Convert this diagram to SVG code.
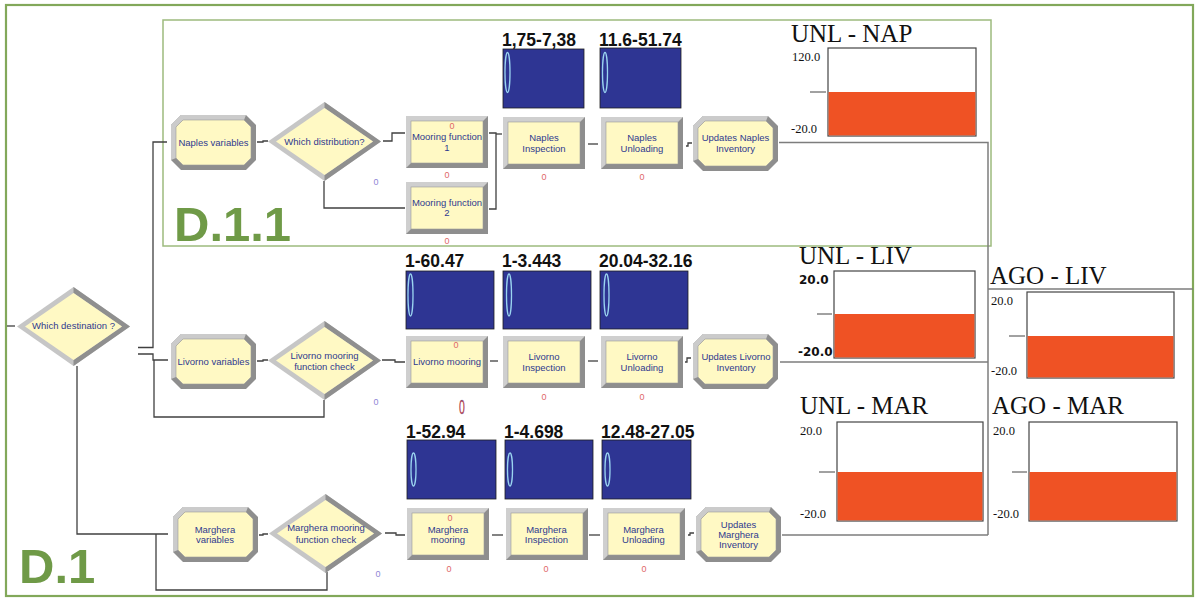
<svg xmlns="http://www.w3.org/2000/svg" width="1195" height="598" viewBox="0 0 1195 598">
  <style>
    .t { font-family: "Liberation Sans", Arial, sans-serif; font-size: 9.5px; fill: #2f3a8f; text-anchor: middle; }
    .lbl { font-family: "Liberation Sans", Arial, sans-serif; font-size: 17.5px; font-weight: bold; fill: #111; }
    .ttl { font-family: "Liberation Serif", "Times New Roman", serif; font-size: 25px; fill: #111; }
    .ax { font-family: "Liberation Serif", "Times New Roman", serif; font-size: 12.5px; fill: #111; }
    .axb { font-family: "DejaVu Sans", Verdana, sans-serif; font-size: 12px; font-weight: bold; fill: #111; }
    .cr { font-family: "Liberation Sans", Arial, sans-serif; font-size: 9px; fill: #e06868; text-anchor: middle; }
    .cp { font-family: "Liberation Sans", Arial, sans-serif; font-size: 9px; fill: #8f86d6; text-anchor: middle; }
    .big { font-family: "Liberation Sans", Arial, sans-serif; font-size: 49px; font-weight: bold; fill: #6f9a47; }
    .conn { fill: none; stroke: #404040; stroke-width: 1.3; }
    .conn2 { fill: none; stroke: #7d7d7d; stroke-width: 1.5; }
    .res { fill: #2e3593; stroke: #1e1e1e; stroke-width: 0.8; }
    .resq { fill: none; stroke: #9ad4f0; stroke-width: 1.3; }
    .frame { fill: #fff; stroke: #444; stroke-width: 1.2; }
    .bar { fill: #ef5224; }
    .tick { stroke: #444; stroke-width: 1; }
  </style>
  <defs>
    <!-- process module: bevelled grey frame with yellow face -->
    <g id="proc">
      <rect width="82" height="52" fill="#8e8e8e"/>
      <polygon points="0,0 82,0 77,5 5,5 5,47 0,52" fill="#cfcfcf"/>
      <rect x="5" y="5" width="72" height="42" fill="#fff9c4" stroke="#9a9a9a" stroke-width="0.6"/>
    </g>
    <!-- assign module: octagon -->
    <g id="octa">
      <polygon points="10,0 75,0 85,10 85,45 75,55 10,55 0,45 0,10" fill="#8e8e8e"/>
      <polygon points="0,45 0,10 10,0 75,0 73,5 12,5 5,12 5,43" fill="#cbcbcb"/>
      <polygon points="12,5 73,5 80,12 80,43 73,50 12,50 5,43 5,12" fill="#fff9c4" stroke="#9a9a9a" stroke-width="0.6"/>
    </g>
    <!-- decide module: diamond -->
    <g id="dec">
      <polygon points="0,39.5 56.5,0 113,39.5 56.5,79" fill="#c6c6c6"/>
      <polygon points="56.5,0 113,39.5 56.5,79 56.5,73 105,39.5 56.5,6" fill="#8f8f8f"/>
      <polygon points="8,39.5 56.5,6 105,39.5 56.5,73" fill="#fff9c4"/>
    </g>
  </defs>

  <rect width="1195" height="598" fill="#fff"/>

  <!-- frames -->
  <rect x="6" y="5" width="1187" height="591" fill="none" stroke="#82a85a" stroke-width="2.2"/>
  <rect x="163" y="20" width="828" height="226" fill="none" stroke="#9dbb7e" stroke-width="1.5"/>
  <text class="big" x="174" y="241">D.1.1</text>
  <text class="big" x="19" y="583" font-size="47">D.1</text>

  <!-- connectors -->
  <g id="connectors">
    <polyline class="conn" points="7,326 15,326"/>
    <polyline class="conn" points="138,347.5 153,347.5 153,142 167,142"/>
    <polyline class="conn" points="138,354 153,354 153,360 168,360"/>
    <polyline class="conn" points="324,400 324,417 154,417 154,360"/>
    <polyline class="conn" points="77,366 77,534 168,534"/>
    <polyline class="conn" points="327,572 327,590 156,590 156,534"/>

    <polyline class="conn" points="257,142 263,142 263,141 268,141"/>
    <polyline class="conn" points="383,141 392,141 392,133 405,133"/>
    <polyline class="conn" points="324,181 324,208 405,208"/>
    <polyline class="conn" points="489,133 496,133 496,209 489,209"/>
    <polyline class="conn" points="496,134 502,134"/>
    <polyline class="conn" points="588,144 598,144"/>
    <polyline class="conn" points="686,146 688,146 688,143 692,143"/>

    <polyline class="conn" points="257,361 263,361 263,360 268,360"/>
    <polyline class="conn" points="382,360 395,360 395,362 405,362"/>
    <polyline class="conn" points="490,361 498,361"/>
    <polyline class="conn" points="588,361 598,361"/>
    <polyline class="conn" points="685,362 687,362 687,358 691,358"/>

    <polyline class="conn" points="259,535 263,535 263,534 268,534"/>
    <polyline class="conn" points="385,533 396,533 396,535 405,535"/>
    <polyline class="conn" points="492,535 503,535"/>
    <polyline class="conn" points="589,535 600,535"/>
    <polyline class="conn" points="688,535 690,535 690,533 694,533"/>

    <polyline class="conn2" points="779,142.5 988,142.5 988,535"/>
    <polyline class="conn2" points="780,362 988,362"/>
    <polyline class="conn2" points="782,535 988,535"/>
    <polyline class="conn2" points="988,289 1193,289"/>
  </g>

  <!-- decide: destination -->
  <g id="which-destination">
    <use href="#dec" x="17" y="287"/>
    <text class="t" x="73.5" y="328.5" font-size="10">Which destination ?</text>
  </g>

  <!-- Naples branch -->
  <g id="naples-variables">
    <use href="#octa" x="171" y="115"/>
    <text class="t" x="213.5" y="146">Naples variables</text>
  </g>
  <g id="which-distribution">
    <use href="#dec" x="268" y="102"/>
    <text class="t" x="324.5" y="144.5" font-size="10">Which distribution?</text>
    <text class="cp" x="376" y="185">0</text>
  </g>
  <g id="mooring-function-1">
    <use href="#proc" x="406" y="116"/>
    <text class="cr" x="452" y="129" font-size="8">0</text>
    <text class="t" x="447" y="139.5">Mooring function</text>
    <text class="t" x="447" y="150.5">1</text>
    <text class="cr" x="447" y="178">0</text>
  </g>
  <g id="mooring-function-2">
    <use href="#proc" x="406" y="182"/>
    <text class="t" x="447" y="205.5">Mooring function</text>
    <text class="t" x="447" y="216">2</text>
    <text class="cr" x="447" y="244">0</text>
  </g>
  <g id="naples-inspection">
    <use href="#proc" x="503" y="117"/>
    <text class="t" x="544" y="140.5">Naples</text>
    <text class="t" x="544" y="151.5">Inspection</text>
    <text class="cr" x="544" y="180">0</text>
  </g>
  <g id="naples-unloading">
    <use href="#proc" x="601" y="117"/>
    <text class="t" x="642" y="140.5">Naples</text>
    <text class="t" x="642" y="151.5">Unloading</text>
    <text class="cr" x="642" y="180">0</text>
  </g>
  <g id="updates-naples-inventory">
    <use href="#octa" x="693" y="116"/>
    <text class="t" x="735.5" y="140.5">Updates Naples</text>
    <text class="t" x="735.5" y="151.5">Inventory</text>
  </g>
  <g id="res-naples-inspection">
    <text class="lbl" x="502" y="45.5">1,75-7,38</text>
    <rect class="res" x="503" y="49" width="81" height="59"/>
    <ellipse class="resq" cx="507.5" cy="72.5" rx="2.5" ry="20"/>
  </g>
  <g id="res-naples-unloading">
    <text class="lbl" x="599" y="45.5">11.6-51.74</text>
    <rect class="res" x="600" y="48" width="81" height="60"/>
    <ellipse class="resq" cx="605" cy="72.5" rx="2.5" ry="20"/>
  </g>

  <!-- Livorno branch -->
  <g id="livorno-variables">
    <use href="#octa" x="171" y="334"/>
    <text class="t" x="213.5" y="364.5">Livorno variables</text>
  </g>
  <g id="livorno-mooring-check">
    <use href="#dec" x="268" y="321"/>
    <text class="t" x="324.5" y="358.5">Livorno mooring</text>
    <text class="t" x="324.5" y="370">function check</text>
    <text class="cp" x="376" y="405">0</text>
  </g>
  <g id="livorno-mooring">
    <use href="#proc" x="406" y="336"/>
    <text class="cr" x="456" y="348" font-size="8">0</text>
    <text class="t" x="447" y="364.5">Livorno mooring</text>
    <text x="462" y="414" font-family="Liberation Sans, Arial, sans-serif" font-size="21" fill="#c8403a" stroke="#5a4a9a" stroke-width="0.3" text-anchor="middle" transform="translate(462 0) scale(0.5 1) translate(-462 0)">0</text>
  </g>
  <g id="livorno-inspection">
    <use href="#proc" x="503" y="336"/>
    <text class="t" x="544" y="360">Livorno</text>
    <text class="t" x="544" y="370.5">Inspection</text>
    <text class="cr" x="544" y="400">0</text>
  </g>
  <g id="livorno-unloading">
    <use href="#proc" x="601" y="336"/>
    <text class="t" x="642" y="360">Livorno</text>
    <text class="t" x="642" y="370.5">Unloading</text>
    <text class="cr" x="642" y="400">0</text>
  </g>
  <g id="updates-livorno-inventory">
    <use href="#octa" x="693" y="334"/>
    <text class="t" x="736" y="360">Updates Livorno</text>
    <text class="t" x="736" y="370.5">Inventory</text>
  </g>
  <g id="res-livorno-mooring">
    <text class="lbl" x="405" y="266.5">1-60.47</text>
    <rect class="res" x="406" y="271" width="88" height="58"/>
    <ellipse class="resq" cx="410.5" cy="295" rx="2.5" ry="21"/>
  </g>
  <g id="res-livorno-inspection">
    <text class="lbl" x="502" y="266.5">1-3.443</text>
    <rect class="res" x="503" y="271" width="88" height="58"/>
    <ellipse class="resq" cx="509" cy="295" rx="2.5" ry="21"/>
  </g>
  <g id="res-livorno-unloading">
    <text class="lbl" x="599" y="266.5">20.04-32.16</text>
    <rect class="res" x="600" y="271" width="88" height="58"/>
    <ellipse class="resq" cx="606.5" cy="295" rx="2.5" ry="21"/>
  </g>

  <!-- Marghera branch -->
  <g id="marghera-variables">
    <use href="#octa" x="173" y="507"/>
    <text class="t" x="215" y="532.5">Marghera</text>
    <text class="t" x="215" y="542.5">variables</text>
  </g>
  <g id="marghera-mooring-check">
    <use href="#dec" x="269" y="494"/>
    <text class="t" x="326" y="530.5">Marghera mooring</text>
    <text class="t" x="326" y="542.5">function check</text>
    <text class="cp" x="378" y="577">0</text>
  </g>
  <g id="marghera-mooring">
    <use href="#proc" x="407" y="508"/>
    <text class="cr" x="450" y="521" font-size="8">0</text>
    <text class="t" x="448" y="532.5">Marghera</text>
    <text class="t" x="448" y="542.5">mooring</text>
    <text class="cr" x="449" y="572">0</text>
  </g>
  <g id="marghera-inspection">
    <use href="#proc" x="506" y="508"/>
    <text class="t" x="546.5" y="532.5">Marghera</text>
    <text class="t" x="546.5" y="542.5">Inspection</text>
    <text class="cr" x="546" y="572">0</text>
  </g>
  <g id="marghera-unloading">
    <use href="#proc" x="603" y="508"/>
    <text class="t" x="643.5" y="532.5">Marghera</text>
    <text class="t" x="643.5" y="542.5">Unloading</text>
    <text class="cr" x="644" y="572">0</text>
  </g>
  <g id="updates-marghera-inventory">
    <use href="#octa" x="696" y="507"/>
    <text class="t" x="738.5" y="527.5">Updates</text>
    <text class="t" x="738.5" y="538">Marghera</text>
    <text class="t" x="738.5" y="548">Inventory</text>
  </g>
  <g id="res-marghera-mooring">
    <text class="lbl" x="406" y="437.5">1-52.94</text>
    <rect class="res" x="407" y="440" width="89" height="59"/>
    <ellipse class="resq" cx="413.5" cy="469.5" rx="2.5" ry="16.5"/>
  </g>
  <g id="res-marghera-inspection">
    <text class="lbl" x="504" y="437.5">1-4.698</text>
    <rect class="res" x="505" y="440" width="88" height="59"/>
    <ellipse class="resq" cx="510" cy="469.5" rx="2.5" ry="16.5"/>
  </g>
  <g id="res-marghera-unloading">
    <text class="lbl" x="601" y="437.5">12.48-27.05</text>
    <rect class="res" x="602" y="440" width="89" height="59"/>
    <ellipse class="resq" cx="607.5" cy="469.5" rx="2.5" ry="16.5"/>
  </g>

  <!-- level charts -->
  <g id="chart-unl-nap">
    <text class="ttl" x="791" y="42">UNL - NAP</text>
    <text class="ax" x="792" y="61">120.0</text>
    <text class="ax" x="791" y="133">-20.0</text>
    <line class="tick" x1="810" y1="92" x2="826" y2="92"/>
    <rect class="frame" x="828" y="48" width="148" height="88"/>
    <rect class="bar" x="828.6" y="92" width="146.8" height="43.4"/>
  </g>
  <g id="chart-unl-liv">
    <text class="ttl" x="799" y="264">UNL - LIV</text>
    <text class="axb" x="799" y="284">20.0</text>
    <text class="axb" x="798" y="356">-20.0</text>
    <line class="tick" x1="817" y1="314" x2="832" y2="314"/>
    <rect class="frame" x="834" y="271" width="141" height="87"/>
    <rect class="bar" x="834.6" y="314" width="139.8" height="43.4"/>
  </g>
  <g id="chart-ago-liv">
    <text class="ttl" x="990" y="284" font-size="24.5">AGO - LIV</text>
    <text class="ax" x="991" y="305">20.0</text>
    <text class="ax" x="991" y="375">-20.0</text>
    <line class="tick" x1="1009" y1="336" x2="1025" y2="336"/>
    <rect class="frame" x="1027" y="292" width="147" height="86"/>
    <rect class="bar" x="1027.6" y="336" width="145.8" height="41.4"/>
  </g>
  <g id="chart-unl-mar">
    <text class="ttl" x="800" y="414" font-size="28.5">UNL - MAR</text>
    <text class="ax" x="800" y="435">20.0</text>
    <text class="ax" x="800" y="518">-20.0</text>
    <line class="tick" x1="819" y1="472" x2="835" y2="472"/>
    <rect class="frame" x="837" y="422" width="146" height="99"/>
    <rect class="bar" x="837.6" y="472" width="144.8" height="48.4"/>
  </g>
  <g id="chart-ago-mar">
    <text class="ttl" x="992" y="414" font-size="28.5">AGO - MAR</text>
    <text class="ax" x="993" y="435">20.0</text>
    <text class="ax" x="993" y="518">-20.0</text>
    <line class="tick" x1="1012" y1="472" x2="1027" y2="472"/>
    <rect class="frame" x="1029" y="422" width="148" height="99"/>
    <rect class="bar" x="1029.6" y="472" width="146.8" height="48.4"/>
  </g>
</svg>
